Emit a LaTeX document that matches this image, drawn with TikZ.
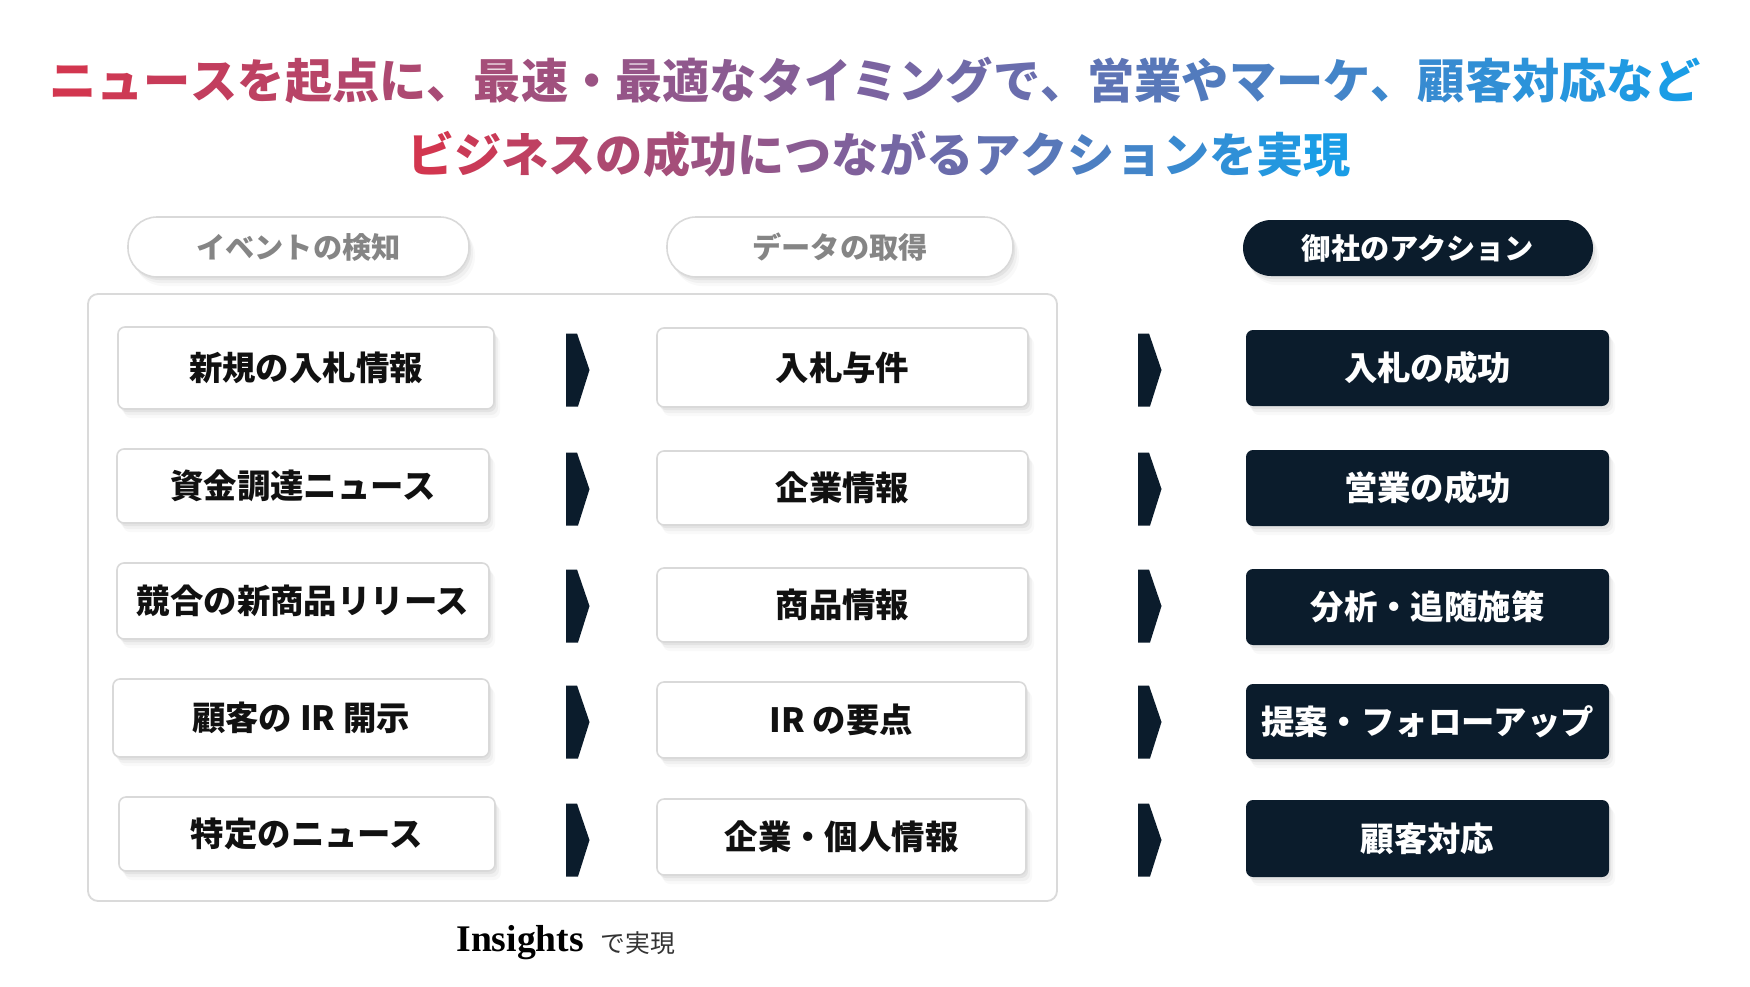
\documentclass[tikz,border=0pt]{standalone}
\usepackage{fontspec}
\setmainfont{Noto Sans CJK JP}
\newfontfamily\insfont{Liberation Serif}
\usetikzlibrary{shadows}
\definecolor{navy}{HTML}{0B1C2C}
\definecolor{bordergray}{HTML}{D9D9D9}
\definecolor{framegray}{HTML}{DADADA}
\definecolor{pilltext}{HTML}{858585}
\definecolor{textdark}{HTML}{111111}
\definecolor{subgray}{HTML}{333333}
\definecolor{tA}{HTML}{D2364F}
\definecolor{tB}{HTML}{7B63A0}
\definecolor{tC}{HTML}{1A9DE6}
\newcommand\boxfont{\bfseries\fontsize{16.7pt}{20pt}\selectfont}
\newcommand\pillfont{\bfseries\fontsize{14.6pt}{18pt}\selectfont}
\newcommand\titlefont{\bfseries\fontsize{23.6pt}{28pt}\selectfont}
\newcommand\gradtext[2]{%
  \foreach \ch [count=\i from 0] in {#2}{%
    \pgfmathtruncatemacro\tpos{round(100*\i/#1)}%
    \ifnum\tpos<50
      \pgfmathtruncatemacro\tmix{100-2*\tpos}%
      \textcolor{tA!\tmix!tB}{\ch}%
    \else
      \pgfmathtruncatemacro\tmix{200-2*\tpos}%
      \textcolor{tB!\tmix!tC}{\ch}%
    \fi}}
\newcommand\mkbox[7]{%
  \node[#1, minimum width={(#4-#3)*0.5pt}, minimum height={(#6-#5)*0.5pt}]
    (#2) at ({(#3+#4)/2},{(#5+#6)/2}) {#7};}
\tikzset{
  boxshadow/.style={
    drop shadow={shadow xshift=3pt, shadow yshift=-4.5pt, opacity=0.025, fill=black},
    drop shadow={shadow xshift=2pt, shadow yshift=-3pt, opacity=0.035, fill=black},
    drop shadow={shadow xshift=1pt, shadow yshift=-1.5pt, opacity=0.05, fill=black}},
  whitebox/.style={draw=bordergray, line width=0.8pt, fill=white, rounded corners=3.5pt,
    inner sep=0pt, boxshadow, text=textdark, font=\boxfont},
  darkbox/.style={fill=navy, rounded corners=3.5pt, inner sep=0pt, boxshadow,
    text=white, font=\boxfont},
  pillbox/.style={draw=bordergray, line width=0.8pt, fill=white, rounded corners=14.5pt,
    inner sep=0pt, boxshadow, text=pilltext, font=\pillfont},
  darkpill/.style={fill=navy, rounded corners=14pt, inner sep=0pt, boxshadow,
    text=white, font=\pillfont},
  framebox/.style={draw=framegray, line width=0.9pt, rounded corners=5pt, fill=white, inner sep=0pt},
  chevron/.pic={\fill[navy] (-11.5,-36.5) -- (-0.5,-36.5) -- (12,0) -- (0.5,36.5) -- (-11.5,36.5) -- cycle;},
}
\begin{document}
\begin{tikzpicture}[x=0.5pt, y=-0.5pt]
\fill[white] (0,0) rectangle (1750,986);
\useasboundingbox (0,0) rectangle (1750,986);
% title
\node[inner sep=0pt, font=\titlefont] (t1) at (875,80)
  {\gradtext{34}{ニ,ュ,ー,ス,を,起,点,に,、,最,速,・,最,適,な,タ,イ,ミ,ン,グ,で,、,営,業,や,マ,ー,ケ,、,顧,客,対,応,な,ど}};
\node[inner sep=0pt, font=\titlefont] (t2) at (879,154)
  {\gradtext{19}{ビ,ジ,ネ,ス,の,成,功,に,つ,な,が,る,ア,ク,シ,ョ,ン,を,実,現}};
% headers
\mkbox{pillbox}{p1}{128}{469}{217}{277}{イベントの検知}
\mkbox{pillbox}{p2}{667}{1013}{217}{277}{データの取得}
\mkbox{darkpill}{p3}{1243}{1593}{220}{276}{御社のアクション}
% frame
\mkbox{framebox}{frame}{88}{1057}{294}{901}{}
% left column
\mkbox{whitebox}{l1}{118}{494}{327}{409}{新規の入札情報}
\mkbox{whitebox}{l2}{117}{489}{449}{523}{資金調達ニュース}
\mkbox{whitebox}{l3}{117}{489}{563}{639}{競合の新商品リリース}
\mkbox{whitebox}{l4}{113}{489}{679}{757}{顧客の IR 開示}
\mkbox{whitebox}{l5}{119}{495}{797}{871}{特定のニュース}
% middle column
\mkbox{whitebox}{m1}{657}{1028}{328}{407}{入札与件}
\mkbox{whitebox}{m2}{657}{1028}{451}{525}{企業情報}
\mkbox{whitebox}{m3}{657}{1028}{568}{642}{商品情報}
\mkbox{whitebox}{m4}{657}{1026}{682}{758}{IR の要点}
\mkbox{whitebox}{m5}{657}{1026}{799}{875}{企業・個人情報}
% right column
\mkbox{darkbox}{d1}{1246}{1609}{330}{406}{入札の成功}
\mkbox{darkbox}{d2}{1246}{1609}{450}{526}{営業の成功}
\mkbox{darkbox}{d3}{1246}{1609}{569}{645}{分析・追随施策}
\mkbox{darkbox}{d4}{1246}{1609}{684}{759}{提案・フォローアップ}
\mkbox{darkbox}{d5}{1246}{1609}{800}{877}{顧客対応}
% chevrons
\foreach \r/\yy in {1/370,2/489,3/606,4/722,5/840}{
  \coordinate (ca\r) at (577.5,\yy);
  \coordinate (cb\r) at (1149.5,\yy);
  \pic at (ca\r) {chevron};
  \pic at (cb\r) {chevron};
}
% footer
\node[inner sep=0pt, anchor=base west, font=\insfont\bfseries\fontsize{18.8pt}{22pt}\selectfont, text=black] (ins) at (456,951) {Insights};
\node[inner sep=0pt, anchor=base west, font=\fontsize{12.4pt}{15pt}\selectfont, text=subgray] (insj) at (600,952) {で実現};
\end{tikzpicture}
\end{document}
